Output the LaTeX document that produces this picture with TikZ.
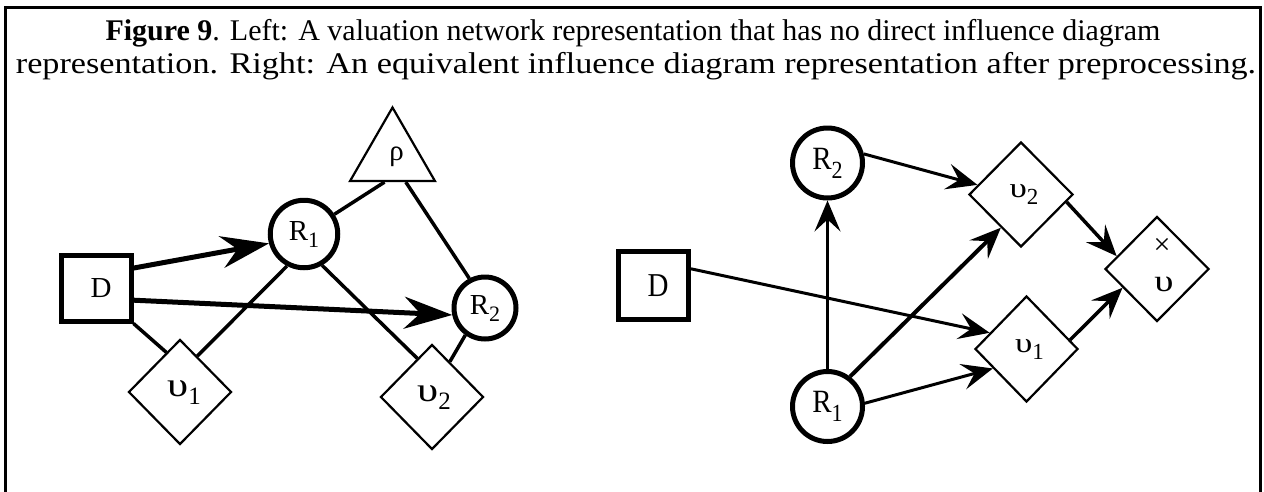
\documentclass[tikz,border=0pt]{standalone}
\usepackage{fontspec}
\setmainfont{Liberation Serif}
\usetikzlibrary{arrows.meta,shapes.geometric,calc}

% letter with a lowered index
\newcommand{\idx}[4][22]{#2\raisebox{-#4}{\fontsize{#1}{#1}\selectfont #3}}
% widened upsilon of a given size
\newcommand{\ups}[1]{\scalebox{1.25}[1]{\fontsize{#1}{#1}\selectfont υ}}

\begin{document}
\begin{tikzpicture}[x=1pt,y=-1pt,
  lbl/.style={font=\fontsize{29}{29}\selectfont},
  sq/.style={draw,line width=5pt,inner sep=0pt,minimum width=70pt,minimum height=66pt,lbl},
  rc/.style={draw,circle,line width=5pt,inner sep=0pt,lbl},
  dia/.style={draw,diamond,line width=2.2pt,inner sep=0pt,minimum width=103pt,minimum height=105pt,lbl},
  tri/.style={draw,regular polygon,regular polygon sides=3,line width=2.2pt,inner sep=0pt,minimum size=98pt,lbl},
  link/.style={line width=3.5pt},
  bigarr/.style={line width=5pt,-{Stealth[length=48pt,width=32pt,inset=16pt]}},
  arr/.style={line width=3pt,-{Stealth[length=31pt,width=26pt,inset=12pt]}},
  ttl/.style={font=\fontsize{30}{30}\selectfont,anchor=base,inner sep=0pt}
]
\useasboundingbox (0,0) rectangle (1264,491);
\fill[white] (0,0) rectangle (1264,491);

% frame
\draw[line width=3pt] (5,500) -- (5,7) -- (1260.5,7) -- (1260.5,500);

% caption
\node[ttl] (cap1) at (633,40) {\textbf{Figure 9}. Left: A valuation network representation that has no direct influence diagram};
\node[ttl] (cap2) at (636,73) {\scalebox{1.14}[1]{representation. Right: An equivalent influence diagram representation after preprocessing.}};

% ---- valuation network ----
\node[sq] (D) at (96,288) {\hspace{10pt}D};
\node[rc,minimum size=67.5pt] (R1) at (304,234) {\idx{R}{1}{7pt}};
\node[rc,minimum size=62pt] (R2) at (485,308) {\idx{R}{2}{7pt}};
\node[tri] (rho) at (392.5,156.5) {\raisebox{3pt}{\hspace{8pt}ρ}};
\node[dia] (u1) at (180,392) {\hspace{8pt}\idx[25]{\ups{34}}{1}{8pt}};
\node[dia] (u2) at (432,397) {\hspace{4pt}\idx[25]{\ups{34}}{2}{8pt}};

\draw[bigarr] (D.28) -- (R1.195);
\draw[bigarr] (D.-18) -- (R2.192);
\draw[link] (D.south east) -- ($(u1.north)!0.26!(u1.west)$);
\draw[link] (R1.242) -- ($(u1.north)!0.33!(u1.east)$);
\draw[link] (R1.-60) -- ($(u2.north)!0.28!(u2.west)$);
\draw[link] (R1.33) -- ($(rho.corner 2)!0.41!(rho.corner 3)$);
\draw[link] ($(rho.corner 2)!0.65!(rho.corner 3)$) -- (R2.118);
\draw[link] (R2.234) -- ($(u2.north)!0.34!(u2.east)$);

% ---- influence diagram ----
\node[sq,minimum height=68pt] (Dr) at (653.5,285.5) {\hspace{9pt}\scalebox{1}[1.15]{D}};
\node[rc,minimum size=70pt] (R2r) at (827.5,163) {\scalebox{1}[1.12]{\idx{R}{2}{8pt}}};
\node[rc,minimum size=70pt] (R1r) at (827.5,406.5) {\scalebox{1}[1.12]{\idx{R}{1}{8pt}}};
\node[dia,minimum width=104pt] (u2r) at (1021,194.5) {\hspace{6pt}\idx[23]{\ups{28}}{2}{7pt}};
\node[dia,minimum height=106pt] (u1r) at (1026.5,349) {\hspace{6pt}\idx[23]{\ups{28}}{1}{7pt}};
\node[dia,minimum width=104pt] (ur) at (1157,269) {};
\node[font=\fontsize{30}{30}\selectfont,inner sep=0pt] (urx) at (1162,246) {×};
\node[inner sep=0pt] (urv) at (1164,284) {\ups{31}};

\draw[arr,line width=2.2pt] (R1r.north) -- (R2r.south);
\draw[arr] (Dr.24) -- ($(u1r.north)!0.7!(u1r.west)$);
\draw[arr] (R2r.14) -- ($(u2r.north)!0.82!(u2r.west)$);
\draw[arr,line width=4pt] (R1r.53) -- ($(u2r.west)!0.62!(u2r.south)$);
\draw[arr] (R1r.5) -- ($(u1r.west)!0.36!(u1r.south)$);
\draw[arr,line width=3.5pt] ($(u2r.east)!0.14!(u2r.south)$) -- ($(ur.north)!0.76!(ur.west)$);
\draw[arr,line width=3.5pt] ($(u1r.north)!0.83!(u1r.east)$) -- ($(ur.west)!0.35!(ur.south)$);
\end{tikzpicture}
\end{document}
